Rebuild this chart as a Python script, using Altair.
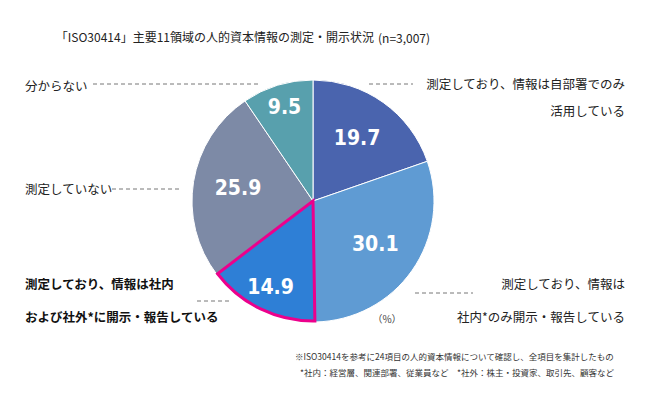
import altair as alt
import pandas as pd

categories = [
    "測定しており、情報は自部署でのみ活用している",
    "測定しており、情報は社内*のみ開示・報告している",
    "測定しており、情報は社内および社外*に開示・報告している",
    "測定していない",
    "分からない",
]
values = [19.7, 30.1, 14.9, 25.9, 9.5]
colors = ["#4a64ae", "#5f9bd3", "#2e7fd6", "#7d8aa6", "#58a0ad"]
highlight = [False, False, True, False, False]

df = pd.DataFrame({
    "cat": categories,
    "value": values,
    "order": list(range(len(values))),
    "hl": highlight,
    "label": [f"{v:.1f}" for v in values],
})
total = sum(values)

CX, CY, R = 305, 193, 121
JP = "Noto Sans CJK JP"

base = alt.Chart(df).transform_window(
    end="sum(value)", sort=[alt.SortField("order")], frame=[None, 0]
).transform_calculate(
    start="datum.end - datum.value",
    mid="datum.end - datum.value / 2",
)

theta_scale = alt.Scale(domain=[0, total], range=[0, 6.283185307179586])
color_scale = alt.Scale(domain=categories, range=colors)

pie = base.mark_arc(outerRadius=R, stroke="white", strokeWidth=1).encode(
    theta=alt.Theta("start:Q", scale=theta_scale, stack=None),
    theta2="end:Q",
    color=alt.Color("cat:N", scale=color_scale, legend=None),
    x=alt.value(CX), y=alt.value(CY),
)

pie_hl = base.transform_filter("datum.hl").mark_arc(
    outerRadius=R - 1, stroke="#ec008c", strokeWidth=3, strokeJoin="miter"
).encode(
    theta=alt.Theta("start:Q", scale=theta_scale, stack=None),
    theta2="end:Q",
    color=alt.Color("cat:N", scale=color_scale, legend=None),
    x=alt.value(CX), y=alt.value(CY),
)

def vlabels(filt, radius):
    return base.transform_filter(filt).mark_text(
        radius=radius, font="DejaVu Sans Condensed", fontWeight="bold",
        fontSize=21, color="white", baseline="middle", align="center",
    ).encode(
        theta=alt.Theta("mid:Q", scale=theta_scale, stack=None),
        text="label:N",
        x=alt.value(CX), y=alt.value(CY),
    )

labels_big = vlabels("datum.value > 15", 76)
labels_small = vlabels("datum.value <= 15", 97)

one = pd.DataFrame({"a": [0]})

def txt(s, x, y, size=12.5, align="left", weight="normal", color="#222222", font=JP):
    return alt.Chart(one).mark_text(
        text=s, fontSize=size, align=align, baseline="middle",
        fontWeight=weight, color=color, font=font,
    ).encode(x=alt.value(x), y=alt.value(y))

def dash(x1, x2, y):
    return alt.Chart(one).mark_rule(
        color="#777777", strokeWidth=1, strokeDash=[4, 3]
    ).encode(x=alt.value(x1), x2=alt.value(x2), y=alt.value(y))

layers = [
    pie, pie_hl, labels_big, labels_small,
    txt("「ISO30414」主要11領域の人的資本情報の測定・開示状況", 366, 30, size=12, align="right"),
    txt("(n=3,007)", 370, 31, size=12),
    txt("分からない", 17, 79),
    dash(85, 250, 76),
    txt("測定していない", 17, 182),
    dash(104, 174, 181),
    txt("測定しており、情報は自部署でのみ", 617, 77, align="right"),
    txt("活用している", 617, 104, align="right"),
    dash(361, 405, 76),
    txt("測定しており、情報は社内", 17, 277, weight="bold", color="#111111"),
    txt("および社外*に開示・報告している", 17, 310, weight="bold", color="#111111"),
    dash(189, 221, 293),
    txt("測定しており、情報は", 617, 277, align="right"),
    txt("社内*のみ開示・報告している", 617, 310, align="right"),
    dash(407, 465, 285),
    txt("（%）", 379, 312, size=10, align="center", color="#444444"),
    txt("※ISO30414を参考に24項目の人的資本情報について確認し、全項目を集計したもの", 287, 349, size=8.5, color="#333333"),
    txt("*社内：経営層、関連部署、従業員など　*社外：株主・投資家、取引先、顧客など", 292, 365, size=8.5, color="#333333"),
]

chart = alt.layer(*layers).properties(
    width=626, height=380, padding=0,
    autosize=alt.AutoSizeParams(type="none"),
    background="white",
).configure_view(stroke=None)

chart.save("out.html", embed_options={"renderer": "svg", "actions": False})
